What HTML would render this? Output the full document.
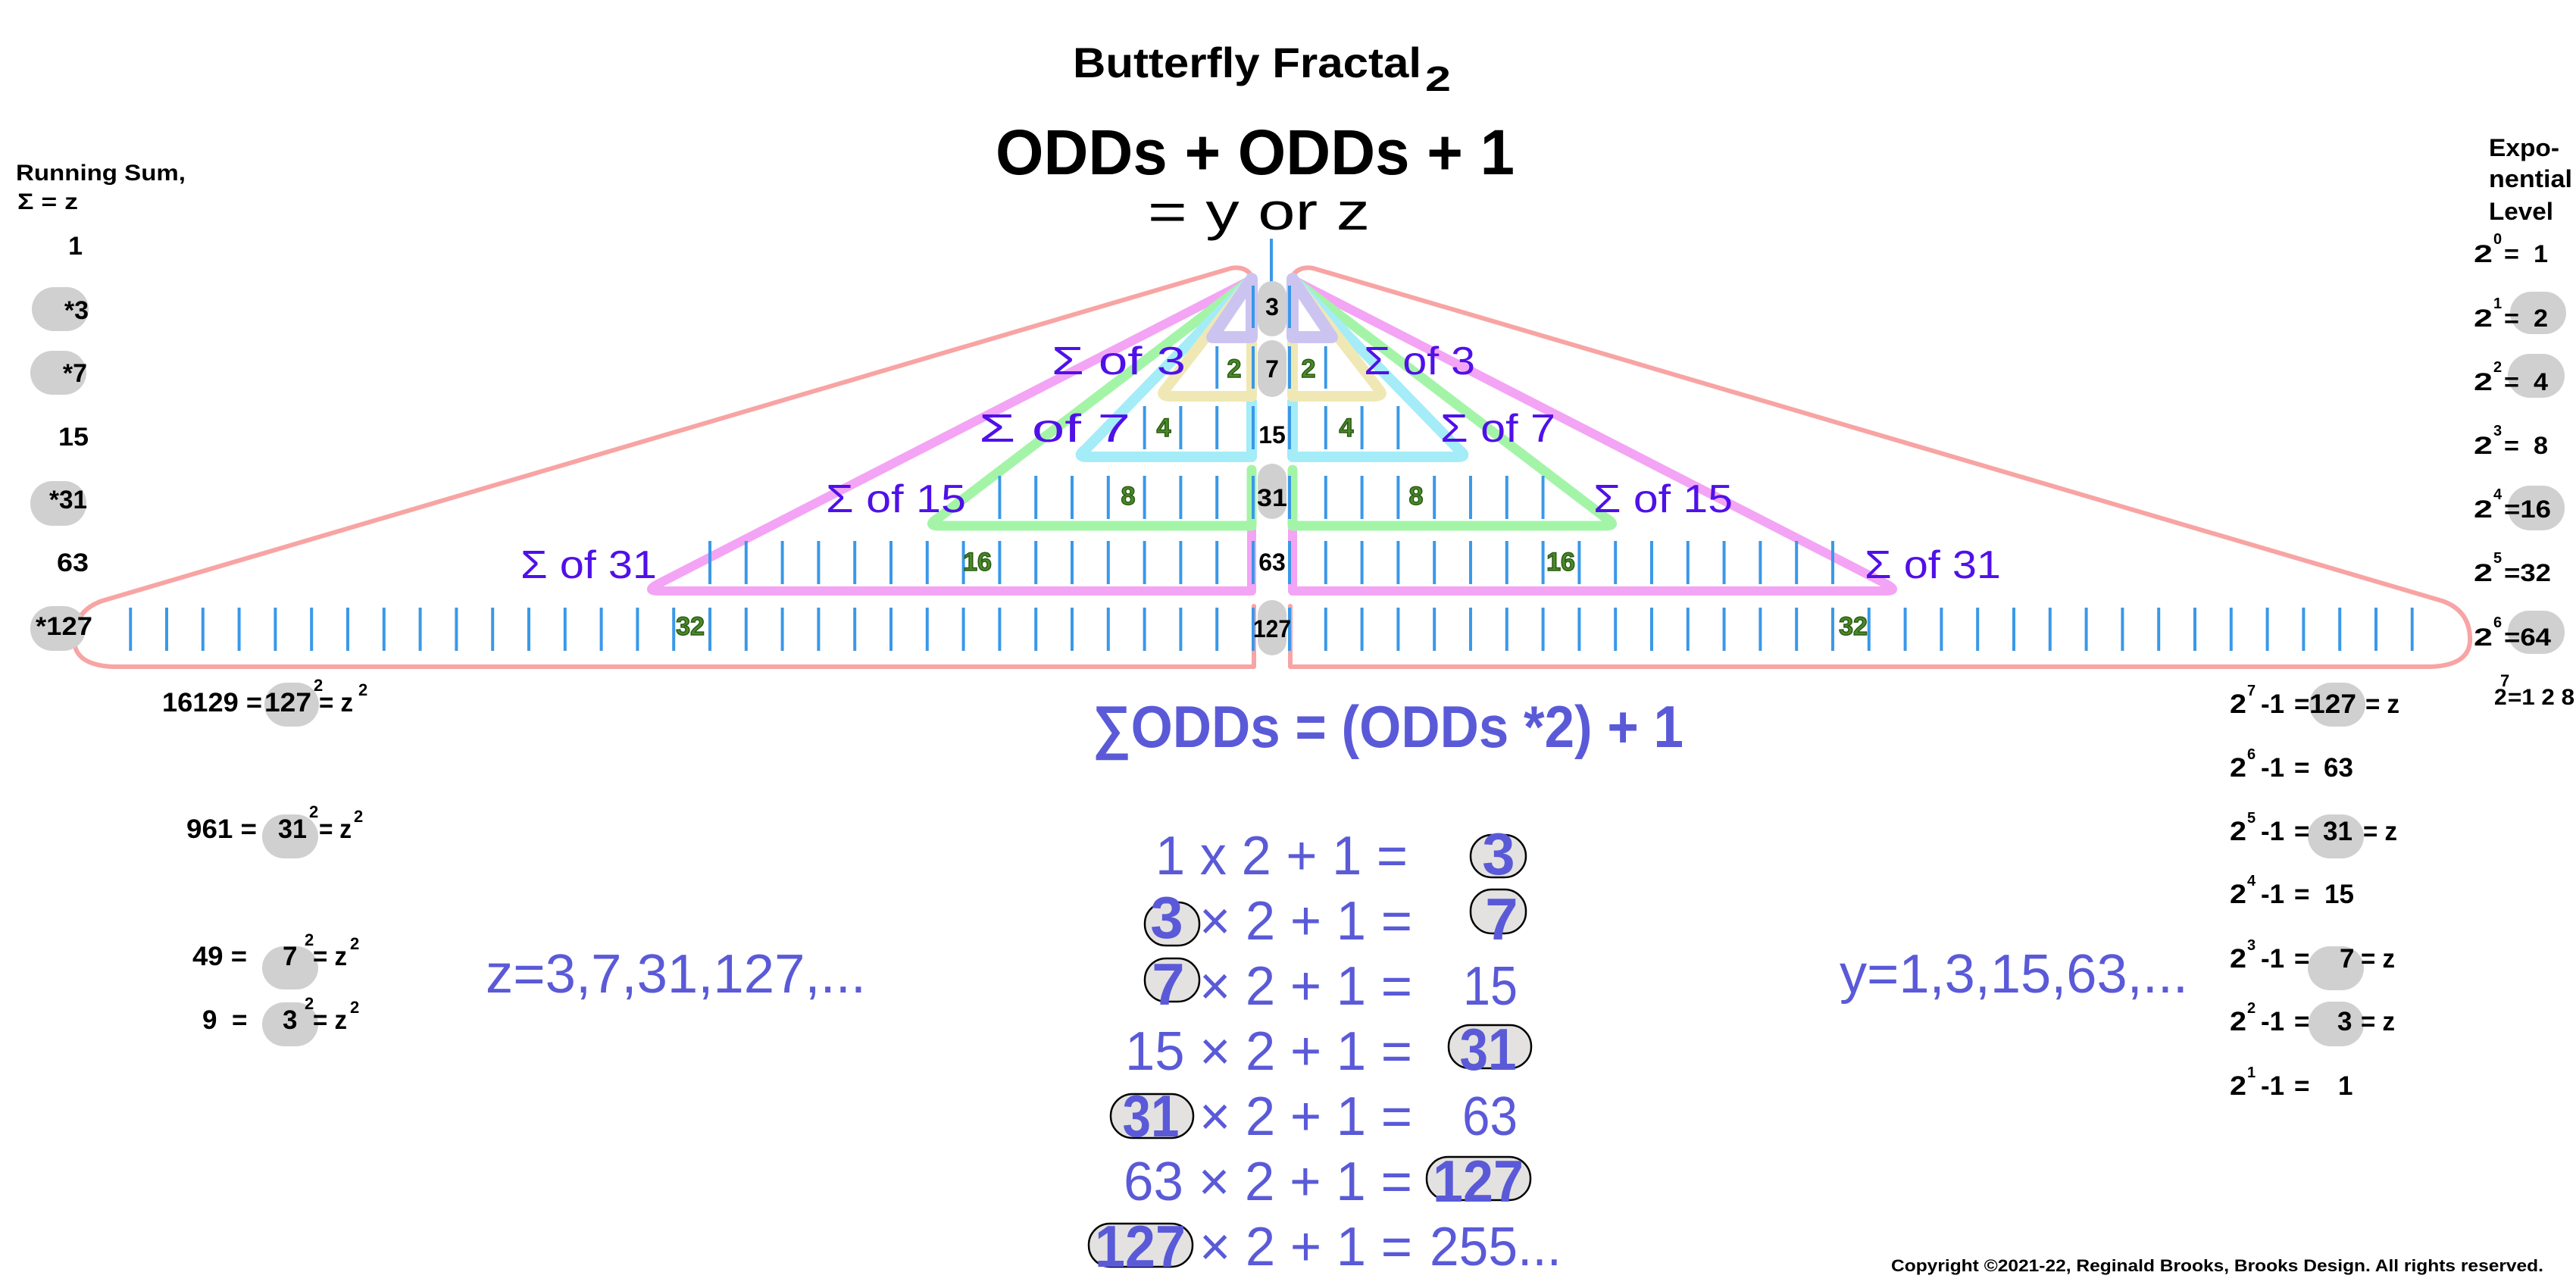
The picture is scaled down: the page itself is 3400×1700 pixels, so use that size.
<!DOCTYPE html>
<html><head><meta charset="utf-8"><style>
html,body{margin:0;padding:0;background:#fff;}
svg{display:block;}
text{font-family:"Liberation Sans",sans-serif;}
.b{font-weight:bold;}
.blk{fill:#000;}
.pur{fill:#5010e8;font-size:52px;}
.blu{fill:#5a5ad8;}
.gn{fill:#4a8a2a;stroke:#2a5a12;stroke-width:1.5;font-weight:bold;font-size:34px;}
.pill{fill:#d0d0d0;}
.ep{fill:#e4e2e0;stroke:#000;stroke-width:2.5;}
</style></head><body>
<svg width="3400" height="1700" viewBox="0 0 3400 1700" xmlns="http://www.w3.org/2000/svg">
<defs>
<pattern id="tl" patternUnits="userSpaceOnUse" x="1652" y="0" width="47.8" height="1700"><rect x="0" y="0" width="4" height="1700" fill="#3a98e8"/></pattern>
<pattern id="tr" patternUnits="userSpaceOnUse" x="1700" y="0" width="47.8" height="1700"><rect x="0" y="0" width="4" height="1700" fill="#3a98e8"/></pattern>
<g id="wing" fill="none" stroke-linejoin="round" stroke-linecap="round">
<path d="M1655,800 L1655,880 L150,880 Q95,878 98,840 Q100,805 135,793 L1625,354 Q1648,350 1656,372" stroke="#f8a4a4" stroke-width="6"/>
<path d="M1650,370 L870,770 Q850,780 870,780 L1652,780 L1652,700" stroke="#f4a4f4" stroke-width="12"/>
<path d="M1650,370 L1238,684 Q1222,694 1240,694 L1652,694 L1652,620" stroke="#a4f4a8" stroke-width="13"/>
<path d="M1650,370 L1432,594 Q1420,603 1435,603 L1652,603 L1652,530" stroke="#a4ecf8" stroke-width="14"/>
<path d="M1650,370 L1538,514 Q1530,523 1545,523 L1652,523 L1652,450" stroke="#f0e8b4" stroke-width="14"/>
<path d="M1652,368 L1652,445 L1600,445 Z" stroke="#ccc4f0" stroke-width="16"/>
</g>
</defs>

<use href="#wing"/>
<g transform="translate(3358,0) scale(-1,1)"><use href="#wing"/></g>

<rect x="1652" y="377" width="4" height="56" fill="url(#tl)"/>
<rect x="1604.2" y="457" width="51.8" height="56" fill="url(#tl)"/>
<rect x="1508.6" y="536" width="147.4" height="57" fill="url(#tl)"/>
<rect x="1317.4" y="628" width="338.6" height="57" fill="url(#tl)"/>
<rect x="935" y="714" width="721" height="57" fill="url(#tl)"/>
<rect x="170.2" y="802" width="1485.8" height="57" fill="url(#tl)"/>
<rect x="1700" y="377" width="4" height="56" fill="url(#tr)"/>
<rect x="1700" y="457" width="51.8" height="56" fill="url(#tr)"/>
<rect x="1700" y="536" width="147.4" height="57" fill="url(#tr)"/>
<rect x="1700" y="628" width="338.6" height="57" fill="url(#tr)"/>
<rect x="1700" y="714" width="721" height="57" fill="url(#tr)"/>
<rect x="1700" y="802" width="1485.8" height="57" fill="url(#tr)"/>

<rect x="1676" y="315" width="4" height="57" fill="#3a98e8"/>

<rect class="pill" x="1660" y="371" width="38" height="73" rx="19"/>
<rect class="pill" x="1660" y="449" width="38" height="75" rx="19"/>
<rect class="pill" x="1660" y="612" width="38" height="73" rx="19"/>
<rect class="pill" x="1660" y="792" width="38" height="73" rx="19"/>
<g class="b blk" font-size="32" text-anchor="middle">
<text x="1679" y="416">3</text>
<text x="1679" y="498">7</text>
<text x="1679" y="585">15</text>
<text x="1679" y="668" textLength="40" lengthAdjust="spacingAndGlyphs">31</text>
<text x="1679" y="753">63</text>
<text x="1679" y="841" textLength="50" lengthAdjust="spacingAndGlyphs">127</text>
</g>

<g class="gn" text-anchor="middle">
<text x="1629" y="498">2</text><text x="1727" y="498">2</text>
<text x="1536" y="576">4</text><text x="1777" y="576">4</text>
<text x="1489" y="666">8</text><text x="1869" y="666">8</text>
<text x="1290" y="753">16</text><text x="2060" y="753">16</text>
<text x="911" y="838">32</text><text x="2446" y="838">32</text>
</g>

<g class="pur">
<text x="1388" y="494" textLength="177" lengthAdjust="spacingAndGlyphs">Σ of 3</text>
<text x="1800" y="494" textLength="147" lengthAdjust="spacingAndGlyphs">Σ of 3</text>
<text x="1292" y="583" textLength="200" lengthAdjust="spacingAndGlyphs">Σ of 7</text>
<text x="1901" y="583" textLength="152" lengthAdjust="spacingAndGlyphs">Σ of 7</text>
<text x="1090" y="676" textLength="185" lengthAdjust="spacingAndGlyphs">Σ of 15</text>
<text x="2103" y="676" textLength="184" lengthAdjust="spacingAndGlyphs">Σ of 15</text>
<text x="687" y="763" textLength="180" lengthAdjust="spacingAndGlyphs">Σ of 31</text>
<text x="2461" y="763" textLength="180" lengthAdjust="spacingAndGlyphs">Σ of 31</text>
</g>

<text class="b blk" x="1416" y="102" font-size="56" textLength="460" lengthAdjust="spacingAndGlyphs">Butterfly Fractal</text>
<text class="b blk" x="1881" y="120" font-size="46" textLength="34" lengthAdjust="spacingAndGlyphs">2</text>
<text class="b blk" x="1314" y="230" font-size="84" textLength="685" lengthAdjust="spacingAndGlyphs">ODDs + ODDs + 1</text>
<text class="blk" x="1515" y="303" font-size="70" textLength="293" lengthAdjust="spacingAndGlyphs">= y or z</text>

<text class="b blk" x="21" y="238" font-size="30" textLength="224" lengthAdjust="spacingAndGlyphs">Running Sum,</text>
<text class="b blk" x="23" y="276" font-size="30" textLength="80" lengthAdjust="spacingAndGlyphs">Σ = z</text>
<rect class="pill" x="42" y="379" width="75" height="58" rx="29"/>
<rect class="pill" x="40" y="463" width="74" height="58" rx="29"/>
<rect class="pill" x="40" y="635" width="74" height="59" rx="29"/>
<rect class="pill" x="40" y="800" width="73" height="59" rx="29"/>
<g class="b blk" font-size="34" text-anchor="end">
<text x="109" y="336">1</text>
<text x="117" y="421">*3</text>
<text x="115" y="504">*7</text>
<text x="117" y="588" textLength="40" lengthAdjust="spacingAndGlyphs">15</text>
<text x="115" y="671" textLength="50" lengthAdjust="spacingAndGlyphs">*31</text>
<text x="117" y="754" textLength="42" lengthAdjust="spacingAndGlyphs">63</text>
<text x="122" y="838" textLength="75" lengthAdjust="spacingAndGlyphs">*127</text>
</g>

<rect class="pill" x="349" y="901" width="72" height="58" rx="29"/>
<rect class="pill" x="346" y="1075" width="74" height="58" rx="29"/>
<rect class="pill" x="346" y="1249" width="74" height="57" rx="29"/>
<rect class="pill" x="346" y="1323" width="74" height="58" rx="29"/>
<g class="b blk" font-size="35">
<text x="214" y="939" textLength="132" lengthAdjust="spacingAndGlyphs">16129 =</text>
<text x="349" y="939" textLength="62" lengthAdjust="spacingAndGlyphs">127</text>
<text x="414" y="912" font-size="22">2</text>
<text x="421" y="939" textLength="45" lengthAdjust="spacingAndGlyphs">= z</text>
<text x="473" y="918" font-size="22">2</text>

<text x="246" y="1106" textLength="93" lengthAdjust="spacingAndGlyphs">961 =</text>
<text x="367" y="1106" textLength="38" lengthAdjust="spacingAndGlyphs">31</text>
<text x="408" y="1079" font-size="22">2</text>
<text x="421" y="1106" textLength="43" lengthAdjust="spacingAndGlyphs">= z</text>
<text x="467" y="1085" font-size="22">2</text>

<text x="254" y="1274" textLength="72" lengthAdjust="spacingAndGlyphs">49 =</text>
<text x="373" y="1274">7</text>
<text x="402" y="1248" font-size="22">2</text>
<text x="413" y="1274" textLength="45" lengthAdjust="spacingAndGlyphs">= z</text>
<text x="462" y="1253" font-size="22">2</text>

<text x="267" y="1358">9</text>
<text x="306" y="1358">=</text>
<text x="373" y="1358">3</text>
<text x="402" y="1332" font-size="22">2</text>
<text x="413" y="1358" textLength="45" lengthAdjust="spacingAndGlyphs">= z</text>
<text x="462" y="1337" font-size="22">2</text>
</g>

<text class="blu" x="641" y="1310" font-size="72" textLength="502" lengthAdjust="spacingAndGlyphs">z=3,7,31,127,...</text>
<text class="blu" x="2428" y="1310" font-size="72" textLength="460" lengthAdjust="spacingAndGlyphs">y=1,3,15,63,...</text>

<text class="blu b" x="1442" y="986" font-size="78" textLength="780" lengthAdjust="spacingAndGlyphs">∑ODDs = (ODDs *2) + 1</text>

<g class="blu" font-size="72">
<text x="1525" y="1154" textLength="333" lengthAdjust="spacingAndGlyphs">1 x 2 + 1 =</text>
<text x="1583" y="1240" textLength="281" lengthAdjust="spacingAndGlyphs">× 2 + 1 =</text>
<text x="1583" y="1326" textLength="281" lengthAdjust="spacingAndGlyphs">× 2 + 1 =</text>
<text x="1485" y="1412" textLength="379" lengthAdjust="spacingAndGlyphs">15 × 2 + 1 =</text>
<text x="1583" y="1498" textLength="281" lengthAdjust="spacingAndGlyphs">× 2 + 1 =</text>
<text x="1483" y="1584" textLength="381" lengthAdjust="spacingAndGlyphs">63 × 2 + 1 =</text>
<text x="1583" y="1670" textLength="281" lengthAdjust="spacingAndGlyphs">× 2 + 1 =</text>
<text x="1931" y="1326" textLength="72" lengthAdjust="spacingAndGlyphs">15</text>
<text x="1930" y="1498" textLength="73" lengthAdjust="spacingAndGlyphs">63</text>
<text x="1887" y="1670" textLength="174" lengthAdjust="spacingAndGlyphs">255...</text>
</g>
<rect class="ep" x="1941" y="1102" width="73" height="56" rx="28"/>
<rect class="ep" x="1511" y="1191" width="72" height="57" rx="28"/>
<rect class="ep" x="1941" y="1174" width="73" height="58" rx="28"/>
<rect class="ep" x="1511" y="1265" width="72" height="57" rx="28"/>
<rect class="ep" x="1912" y="1353" width="109" height="57" rx="28"/>
<rect class="ep" x="1466" y="1444" width="109" height="58" rx="29"/>
<rect class="ep" x="1883" y="1527" width="137" height="57" rx="28"/>
<rect class="ep" x="1437" y="1615" width="137" height="57" rx="28"/>
<g class="blu b" font-size="78" text-anchor="middle">
<text x="1978" y="1154">3</text>
<text x="1540" y="1238">3</text>
<text x="1982" y="1240">7</text>
<text x="1542" y="1326">7</text>
<text x="1964" y="1412" textLength="75" lengthAdjust="spacingAndGlyphs">31</text>
<text x="1519" y="1500" textLength="75" lengthAdjust="spacingAndGlyphs">31</text>
<text x="1951" y="1586" textLength="120" lengthAdjust="spacingAndGlyphs">127</text>
<text x="1505" y="1672" textLength="120" lengthAdjust="spacingAndGlyphs">127</text>
</g>

<g class="b blk" font-size="32">
<text x="3285" y="206" textLength="93" lengthAdjust="spacingAndGlyphs">Expo-</text>
<text x="3285" y="247" textLength="110" lengthAdjust="spacingAndGlyphs">nential</text>
<text x="3285" y="290" textLength="85" lengthAdjust="spacingAndGlyphs">Level</text>
</g>
<rect class="pill" x="3313" y="385" width="74" height="56" rx="28"/>
<rect class="pill" x="3310" y="467" width="75" height="58" rx="29"/>
<rect class="pill" x="3310" y="641" width="75" height="59" rx="29"/>
<rect class="pill" x="3310" y="806" width="75" height="57" rx="28"/>
<g class="b blk" font-size="32">
<text x="3265" y="346" textLength="25" lengthAdjust="spacingAndGlyphs">2</text><text x="3291" y="322" font-size="20">0</text><text x="3305" y="346" textLength="58" lengthAdjust="spacingAndGlyphs">=&#160;&#160;1</text>
<text x="3265" y="431" textLength="25" lengthAdjust="spacingAndGlyphs">2</text><text x="3291" y="407" font-size="20">1</text><text x="3305" y="431" textLength="58" lengthAdjust="spacingAndGlyphs">=&#160;&#160;2</text>
<text x="3265" y="515" textLength="25" lengthAdjust="spacingAndGlyphs">2</text><text x="3291" y="491" font-size="20">2</text><text x="3305" y="515" textLength="58" lengthAdjust="spacingAndGlyphs">=&#160;&#160;4</text>
<text x="3265" y="599" textLength="25" lengthAdjust="spacingAndGlyphs">2</text><text x="3291" y="575" font-size="20">3</text><text x="3305" y="599" textLength="58" lengthAdjust="spacingAndGlyphs">=&#160;&#160;8</text>
<text x="3265" y="683" textLength="25" lengthAdjust="spacingAndGlyphs">2</text><text x="3291" y="659" font-size="20">4</text><text x="3305" y="683" textLength="62" lengthAdjust="spacingAndGlyphs">=16</text>
<text x="3265" y="767" textLength="25" lengthAdjust="spacingAndGlyphs">2</text><text x="3291" y="743" font-size="20">5</text><text x="3305" y="767" textLength="62" lengthAdjust="spacingAndGlyphs">=32</text>
<text x="3265" y="852" textLength="25" lengthAdjust="spacingAndGlyphs">2</text><text x="3291" y="828" font-size="20">6</text><text x="3305" y="852" textLength="62" lengthAdjust="spacingAndGlyphs">=64</text>
<text x="3292" y="930" font-size="30">2</text><text x="3300" y="906" font-size="22">7</text><text x="3310" y="930" font-size="30" textLength="88" lengthAdjust="spacingAndGlyphs">=1 2 8</text>
</g>

<rect class="pill" x="3048" y="901" width="74" height="58" rx="29"/>
<rect class="pill" x="3046" y="1075" width="74" height="58" rx="29"/>
<rect class="pill" x="3046" y="1249" width="74" height="58" rx="29"/>
<rect class="pill" x="3047" y="1322" width="73" height="59" rx="29"/>
<g class="b blk" font-size="35">
<text x="2943" y="941" textLength="22" lengthAdjust="spacingAndGlyphs">2</text><text x="2966" y="918" font-size="20">7</text><text x="2984" y="941">-1</text><text x="3028" y="941">=</text><text x="3048" y="941" textLength="62" lengthAdjust="spacingAndGlyphs">127</text><text x="3122" y="941" textLength="45" lengthAdjust="spacingAndGlyphs">= z</text>
<text x="2943" y="1025" textLength="22" lengthAdjust="spacingAndGlyphs">2</text><text x="2966" y="1002" font-size="20">6</text><text x="2984" y="1025">-1</text><text x="3028" y="1025">=</text><text x="3067" y="1025">63</text>
<text x="2943" y="1109" textLength="22" lengthAdjust="spacingAndGlyphs">2</text><text x="2966" y="1086" font-size="20">5</text><text x="2984" y="1109">-1</text><text x="3028" y="1109">=</text><text x="3066" y="1109">31</text><text x="3119" y="1109" textLength="45" lengthAdjust="spacingAndGlyphs">= z</text>
<text x="2943" y="1192" textLength="22" lengthAdjust="spacingAndGlyphs">2</text><text x="2966" y="1169" font-size="20">4</text><text x="2984" y="1192">-1</text><text x="3028" y="1192">=</text><text x="3068" y="1192">15</text>
<text x="2943" y="1277" textLength="22" lengthAdjust="spacingAndGlyphs">2</text><text x="2966" y="1254" font-size="20">3</text><text x="2984" y="1277">-1</text><text x="3028" y="1277">=</text><text x="3088" y="1277">7</text><text x="3116" y="1277" textLength="45" lengthAdjust="spacingAndGlyphs">= z</text>
<text x="2943" y="1360" textLength="22" lengthAdjust="spacingAndGlyphs">2</text><text x="2966" y="1337" font-size="20">2</text><text x="2984" y="1360">-1</text><text x="3028" y="1360">=</text><text x="3085" y="1360">3</text><text x="3116" y="1360" textLength="45" lengthAdjust="spacingAndGlyphs">= z</text>
<text x="2943" y="1445" textLength="22" lengthAdjust="spacingAndGlyphs">2</text><text x="2966" y="1422" font-size="20">1</text><text x="2984" y="1445">-1</text><text x="3028" y="1445">=</text><text x="3086" y="1445">1</text>
</g>

<text class="b blk" x="2496" y="1678" font-size="22" textLength="861" lengthAdjust="spacingAndGlyphs">Copyright ©2021-22, Reginald Brooks, Brooks Design. All rights reserved.</text>
</svg>
</body></html>
